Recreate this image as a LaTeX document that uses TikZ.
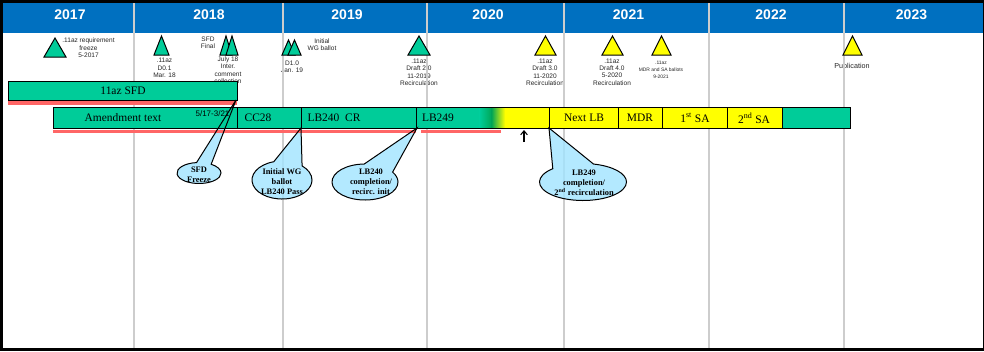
\documentclass[tikz,border=0pt]{standalone}
\usepackage{fontspec}
\setmainfont{Liberation Serif}
\setsansfont{Liberation Sans}
\usetikzlibrary{shapes.callouts,arrows.meta}
\definecolor{hdr}{RGB}{0,112,192}
\definecolor{grn}{RGB}{0,204,153}
\definecolor{dgrn}{RGB}{0,165,85}
\definecolor{ylw}{RGB}{255,255,0}
\definecolor{redl}{RGB}{255,102,102}
\definecolor{sepc}{RGB}{205,205,205}
\definecolor{clb}{RGB}{160,228,255}
\newcommand{\mytri}[5]{\filldraw[tri,fill=#5] (#1,#4) -- (#2,#4) -- ({(#1+#2)/2},#3) -- cycle;}
\begin{document}
\begin{tikzpicture}[x=0.75pt,y=-0.75pt,
 yr/.style={inner sep=0,text=white,font=\sffamily\bfseries\fontsize{10.5}{12}\selectfont},
 tl/.style={inner sep=0,align=center,text=black!85,font=\sffamily\fontsize{4.9}{5.6}\selectfont},
 bl/.style={inner sep=0,font=\rmfamily\fontsize{8.6}{10}\selectfont},
 co/.style={ellipse callout,inner sep=0,callout pointer arc=58},
 cofill/.style={co,fill=clb,fill opacity=0.8},
 coline/.style={co,draw=black,line width=0.75pt},
 ct/.style={inner sep=0,align=center,font=\rmfamily\bfseries\fontsize{6.3}{7.5}\selectfont},
 tri/.style={draw=black,line width=0.75pt,line join=miter},
 bar/.style={draw=black,line width=0.75pt},
 sepline/.style={draw=sepc,line width=1pt}]

\useasboundingbox (0,0) rectangle (984,351);
% frame and header
\fill[black] (0,0) rectangle (984,351);
\fill[white] (2.7,3) rectangle (982.5,348);
\fill[hdr] (2.7,3) rectangle (982.5,33);

% milestone labels
\node[tl] (l2017) at (88.5,47.7) {.11az requirement\\freeze\\5-2017};
\node[tl] (ld01) at (164.5,68) {.11az\\D0.1\\Mar. 18};
\node[tl] (lsfd) at (208,43) {SFD\\Final};
\node[tl] (ljul) at (228,70) {July 18\\Inter.\\comment\\collection};
\node[tl] (ld10) at (292,67) {D1.0\\Jan. 19};
\node[tl] (liwg) at (322,44.5) {Initial\\WG ballot};
\node[tl] (ld20) at (419,72.5) {.11az\\Draft 2.0\\11-2019\\Recirculation};
\node[tl] (ld30) at (545,72.5) {.11az\\Draft 3.0\\11-2020\\Recirculation};
\node[tl] (ld40) at (612,72) {.11az\\Draft 4.0\\5-2020\\Recirculation};
\node[tl,font=\sffamily\fontsize{3.7}{5.2}\selectfont] (lmdr) at (661,70) {.11az\\MDR and SA ballots\\9-2021};
\node[tl,font=\sffamily\fontsize{5.4}{6}\selectfont] (lpub) at (852,66) {Publication};

% year separators
\foreach \xx in {134,283,427,564,709,844} \draw[sepline] (\xx,3) -- (\xx,348);

% year labels
\node[yr] (y2017) at (70,15) {2017};
\node[yr] (y2018) at (209,15) {2018};
\node[yr] (y2019) at (347,15) {2019};
\node[yr] (y2020) at (488,15) {2020};
\node[yr] (y2021) at (628.5,15) {2021};
\node[yr] (y2022) at (771,15) {2022};
\node[yr] (y2023) at (911.5,15) {2023};

% callout tips
\coordinate (tA) at (236,100);
\coordinate (tB) at (301,128);
\coordinate (tC) at (417,128);
\coordinate (tD) at (549,128);

% callout fills
\node[cofill,callout pointer arc=40,minimum width=33pt,minimum height=15.75pt,callout absolute pointer={(tA)}] (cAf) at (199,173) {};
\node[cofill,minimum width=45pt,minimum height=28.5pt,callout absolute pointer={(tB)}] (cBf) at (282,180) {};
\node[cofill,minimum width=49.5pt,minimum height=27pt,callout absolute pointer={(tC)}] (cCf) at (365,182) {};
\node[cofill,minimum width=65.25pt,minimum height=27.75pt,callout absolute pointer={(tD)}] (cDf) at (583,182) {};

% red lines
\fill[redl] (8,101) rectangle (237,105);
\fill[redl] (53,129.5) rectangle (416,133);
\fill[redl] (421,129.5) rectangle (501,133);

% SFD bar
\filldraw[bar,fill=grn] (8,81) rectangle (237,100);
\node[bl] (bsfd) at (123,91) {11az SFD};

% amendment bar
\filldraw[bar,fill=grn] (53,107) rectangle (237,128);
\filldraw[bar,fill=grn] (237,107) rectangle (301,128);
\filldraw[bar,fill=grn] (301,107) rectangle (416,128);
\fill[grn] (416,107) rectangle (480,128);
\shade[left color=grn,right color=dgrn] (479.5,107) rectangle (492,128);
\shade[left color=dgrn,right color=ylw] (491.5,107) rectangle (505,128);
\fill[ylw] (504.5,107) rectangle (549,128);
\draw[bar] (416,107) rectangle (549,128);
\filldraw[bar,fill=ylw] (549,107) rectangle (618,128);
\filldraw[bar,fill=ylw] (618,107) rectangle (662,128);
\filldraw[bar,fill=ylw] (662,107) rectangle (727,128);
\filldraw[bar,fill=ylw] (727,107) rectangle (782,128);
\filldraw[bar,fill=grn] (782,107) rectangle (850,128);

\node[bl] (bam) at (123,118) {Amendment text};
\node[inner sep=0,font=\sffamily\fontsize{6}{7}\selectfont] (bdate) at (212.5,113.5) {5/17-3/21};
\node[bl] (bcc) at (258,118) {CC28};
\node[bl] (b240) at (334,118) {LB240\enspace CR};
\node[bl] (b249) at (438,118) {LB249};
\node[bl] (bnext) at (584,118) {Next LB};
\node[bl] (bmdr) at (640,118) {MDR};
\node[bl] (bsa1) at (695,118) {1\textsuperscript{st} SA};
\node[bl] (bsa2) at (754,118) {2\textsuperscript{nd} SA};

% triangles
\mytri{44}{66}{38}{57}{grn}
\mytri{154}{169}{36}{55}{grn}
\mytri{220}{232}{36}{55}{grn}
\mytri{226}{238}{36}{55}{grn}
\mytri{282}{295}{40}{55}{grn}
\mytri{288}{301}{40}{55}{grn}
\mytri{408}{430}{36}{55}{grn}
\mytri{535}{556}{36}{55}{ylw}
\mytri{602}{623}{36}{55}{ylw}
\mytri{652}{671}{36}{55}{ylw}
\mytri{843}{862}{36}{55}{ylw}

% callout outlines
\node[coline,callout pointer arc=40,minimum width=33pt,minimum height=15.75pt,callout absolute pointer={(tA)}] (cAo) at (199,173) {};
\node[coline,minimum width=45pt,minimum height=28.5pt,callout absolute pointer={(tB)}] (cBo) at (282,180) {};
\node[coline,minimum width=49.5pt,minimum height=27pt,callout absolute pointer={(tC)}] (cCo) at (365,182) {};
\node[coline,minimum width=65.25pt,minimum height=27.75pt,callout absolute pointer={(tD)}] (cDo) at (583,182) {};

% callout texts
\node[ct] (xA) at (199,174.5) {SFD\\Freeze};
\node[ct] (xB) at (282,182) {Initial WG\\ballot\\LB240 Pass};
\node[ct] (xC) at (371,182) {LB240\\completion/\\recirc. init};
\node[ct] (xD) at (584,183) {LB249\\completion/\\2\textsuperscript{nd} recirculation};

% small arrow
\coordinate (arB) at (524,142);
\coordinate (arT) at (524,130);
\draw[-{Straight Barb[length=3pt,width=5pt]},line width=0.8pt] (arB) -- (arT);
\end{tikzpicture}
\end{document}
